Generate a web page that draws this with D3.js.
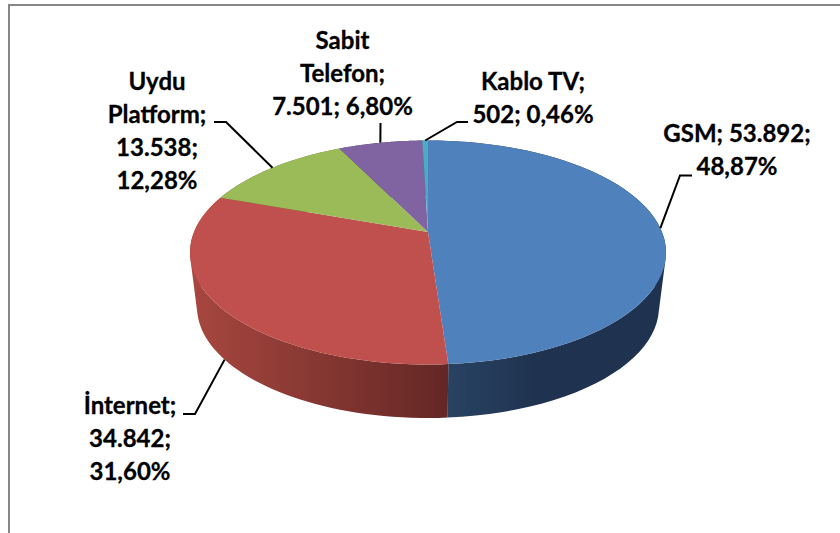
<!DOCTYPE html>
<html>
<head>
<meta charset="utf-8">
<script src="https://cdn.jsdelivr.net/npm/d3@7"></script>
<style>
    html, body { margin: 0; padding: 0; background: #fff; }
    svg { display: block; }
    text { font-family: Lato, "Open Sans", sans-serif; font-weight: 700; font-size: 24px; fill: #000; stroke: #000; stroke-width: 0.3px; }
</style>
</head>
<body>
<svg id="chart" width="840" height="533"></svg>
<script>
const categories = ["GSM", "İnternet", "Uydu Platform", "Sabit Telefon", "Kablo TV"];
const values = [53892, 34842, 13538, 7501, 502];
const labelLines = [
    ["GSM; 53.892;", "48,87%"],
    ["İnternet;", "34.842;", "31,60%"],
    ["Uydu", "Platform;", "13.538;", "12,28%"],
    ["Sabit", "Telefon;", "7.501; 6,80%"],
    ["Kablo TV;", "502; 0,46%"]
];
const topColors = ["#4f81bd", "#c0504d", "#9bbb59", "#8064a2", "#4bacc6"];
const wallColors = [["#2b4667", "#1f3350"], ["#a8473f", "#642725"], ["#5d7035", "#5d7035"], ["#4c3c61", "#4c3c61"], ["#2d6776", "#2d6776"]];

// label anchor (centre x, first baseline) and leader elbow for each category
const labelLayout = [
    { x: 737, y: 142, elbow: [[692, 175.5], [680, 175.5]] },
    { x: 130, y: 414, elbow: [[183, 414], [195, 414]], onBase: true },
    { x: 157, y: 90, elbow: [[214, 122], [226, 122]] },
    { x: 342.5, y: 49, elbow: [[380.5, 123]] },
    { x: 533, y: 90, elbow: [[468, 122], [457, 122]] }
];

const svg = d3.select("#chart");
const lineHeight = 33;

// frame of the chart area, runs off the picture
svg.append("path")
    .attr("d", "M9,533V5H840")
    .attr("fill", "none")
    .attr("stroke", "#868686")
    .attr("stroke-width", 2);

// top and bottom rims are ellipses, the pie centre sits above the ellipse centre (perspective)
const topRim = { cx: 428, cy: 252.5, rx: 238, ry: 112 };
const baseRim = { cx: 428, cy: 307, rx: 231, ry: 111 };
const tilt = -0.183;

function project(angle, rim, r = 1) {
    const u = r * Math.sin(angle);
    const v = -r * Math.cos(angle);
    const w = 1 + tilt * v;
    return [
        rim.cx + rim.rx * u * Math.sqrt(1 - tilt * tilt) / w,
        rim.cy + rim.ry * (v + tilt) / w
    ];
}

const pie = d3.pie().sort(null).value(d => d);
const arcs = pie(values);
const line = d3.line();

function sampleAngles(a) {
    return d3.range(0, 61).map(i => a.startAngle + (a.endAngle - a.startAngle) * i / 60);
}

// gradients for the walls
const defs = svg.append("defs");
arcs.forEach((a, i) => {
    const xs = sampleAngles(a).map(t => project(t, topRim)[0]);
    const grad = defs.append("linearGradient")
        .attr("id", "wall" + i)
        .attr("gradientUnits", "userSpaceOnUse")
        .attr("x1", d3.min(xs)).attr("x2", d3.max(xs))
        .attr("y1", 0).attr("y2", 0);
    grad.append("stop").attr("offset", 0).attr("stop-color", wallColors[i][0]);
    grad.append("stop").attr("offset", i === 0 ? 0.45 : 1).attr("stop-color", wallColors[i][1]);
});

// walls first, the top face covers the back part
svg.append("g").selectAll("path")
    .data(arcs)
    .join("path")
    .attr("fill", (d, i) => `url(#wall${i})`)
    .attr("d", d => {
        const angles = sampleAngles(d);
        return d3.pairs(angles).map(([t0, t1]) => {
            const quad = [project(t0, topRim), project(t1, topRim), project(t1, baseRim), project(t0, baseRim)];
            // same winding for all quads, else overlaps cancel at the silhouette
            if (d3.polygonArea(quad) < 0) quad.reverse();
            return line(quad) + "Z";
        }).join("");
    });

svg.append("g").selectAll("path")
    .data(arcs)
    .join("path")
    .attr("fill", (d, i) => topColors[i])
    .attr("d", d => line([project(0, topRim, 0), ...sampleAngles(d).map(t => project(t, topRim))]) + "Z");

// leaders
svg.append("g").selectAll("path")
    .data(arcs)
    .join("path")
    .attr("fill", "none")
    .attr("stroke", "#000")
    .attr("stroke-width", 2)
    .attr("d", (d, i) => {
        const mid = (d.startAngle + d.endAngle) / 2;
        const end = project(mid, labelLayout[i].onBase ? baseRim : topRim);
        return line([...labelLayout[i].elbow, end]);
    });

// labels
const labels = svg.append("g").selectAll("text")
    .data(categories)
    .join("text")
    .attr("text-anchor", "middle")
    .attr("y", (d, i) => labelLayout[i].y)
    .attr("x", (d, i) => labelLayout[i].x);

labels.selectAll("tspan")
    .data((d, i) => labelLines[i].map(s => ({ s, x: labelLayout[i].x })))
    .join("tspan")
    .attr("x", d => d.x)
    .attr("dy", (d, j) => j ? lineHeight : 0)
    .text(d => d.s);
</script>
</body>
</html>
